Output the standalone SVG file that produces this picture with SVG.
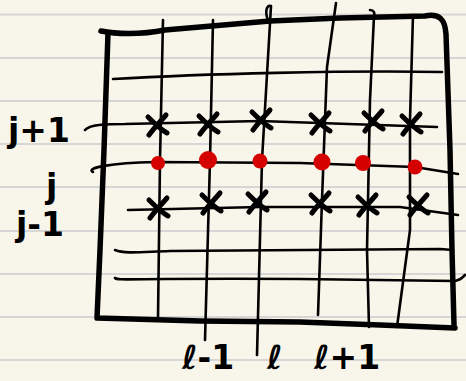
<svg xmlns="http://www.w3.org/2000/svg" width="466" height="381" viewBox="0 0 466 381">
<style>
.rule{stroke:#d6d6d6;stroke-width:2;fill:none}
.thick{stroke:#000;stroke-width:5.5;fill:none;stroke-linecap:round;stroke-linejoin:round}
.thin{stroke:#000;stroke-width:2.6;fill:none;stroke-linecap:round;stroke-linejoin:round}
.xm{stroke:#000;stroke-width:5;fill:none;stroke-linecap:round}
.dot{fill:#d50000}
.lbl{font-family:"DejaVu Sans",sans-serif;font-size:33px;font-weight:bold;fill:#000}
</style>
<defs>
<path id="cross" class="xm" d="M-9,-8 C-3,-2 3,4 10,8 M9,-10 C3,-3 -3,3 -8,10"/>
</defs>
<rect width="466" height="381" fill="#f8f6ea"/>
<g id="paper">
<path class="rule" d="M0,14.5H466M0,58H466M0,101H466M0,144H466M0,187H466M0,231H466M0,274H466M0,317H466M0,360H466"/>
</g>
<g id="frame">
<path class="thick" d="M101,31 C115,34 140,35 165,30 L270,21 L340,18 L425,16 C440,13 445,20 446,34 L450,150 L452,250 L454,325"/>
<path class="thick" d="M108,33 L104,150 L100,250 L97,318 L200,321 L300,322 L380,325 L455,328"/>
</g>
<g id="grid">
<path class="thin" d="M163,20 L160,160 L158,318"/>
<path class="thin" d="M213,20 L210,160 L205,340"/>
<path class="thin" d="M270,24 C264,14 266,4 271,6 L262,160 L257,355"/>
<path class="thin" d="M336,3 L327,67 L322,200 L318,315"/>
<path class="thin" d="M370,10 C374,10 375,13 374,16 L370,100 L367,250 L369,327"/>
<path class="thin" d="M413,15 L410,120 L410,230 L397,327"/>
<path class="thin" d="M113,79 C200,74 350,70 442,72"/>
<path class="thin" d="M85,130 C90,124 110,124 125,124 L260,121 L437,127"/>
<path class="thin" d="M93,172 C85,168 110,163 155,162 L300,163 L415,167 L458,174"/>
<path class="thin" d="M128,210 L260,207 L400,207 L458,215"/>
<path class="thin" d="M115,250 C125,254 140,252 170,251 L440,249 L453,250"/>
<path class="thin" d="M115,278 C118,281 125,278 300,279 L455,281 C461,280 463,277 465,275"/>
</g>
<g id="crosses">
<use href="#cross" x="157" y="125"/>
<use href="#cross" x="208" y="124"/>
<use href="#cross" x="261" y="120"/>
<use href="#cross" x="320" y="123"/>
<use href="#cross" x="373" y="121"/>
<use href="#cross" x="411" y="124"/>
<use href="#cross" x="158" y="208"/>
<use href="#cross" x="211" y="203"/>
<use href="#cross" x="257" y="202"/>
<use href="#cross" x="320" y="203"/>
<use href="#cross" x="367" y="205"/>
<use href="#cross" x="418" y="205"/>
</g>
<g id="dots">
<circle class="dot" cx="158" cy="163" r="7"/>
<circle class="dot" cx="208" cy="160" r="9"/>
<circle class="dot" cx="260" cy="161" r="7.5"/>
<circle class="dot" cx="322" cy="162" r="8.5"/>
<circle class="dot" cx="363" cy="163" r="8"/>
<circle class="dot" cx="415" cy="167" r="7.5"/>
</g>
<g id="labels">
<text class="lbl" x="8" y="142">j+1</text>
<text class="lbl" x="46" y="198">j</text>
<text class="lbl" x="16" y="236">j-1</text>
<text class="lbl" x="182" y="369">ℓ-1</text>
<text class="lbl" x="267" y="369">ℓ</text>
<text class="lbl" x="314" y="369">ℓ+1</text>
</g>
</svg>
